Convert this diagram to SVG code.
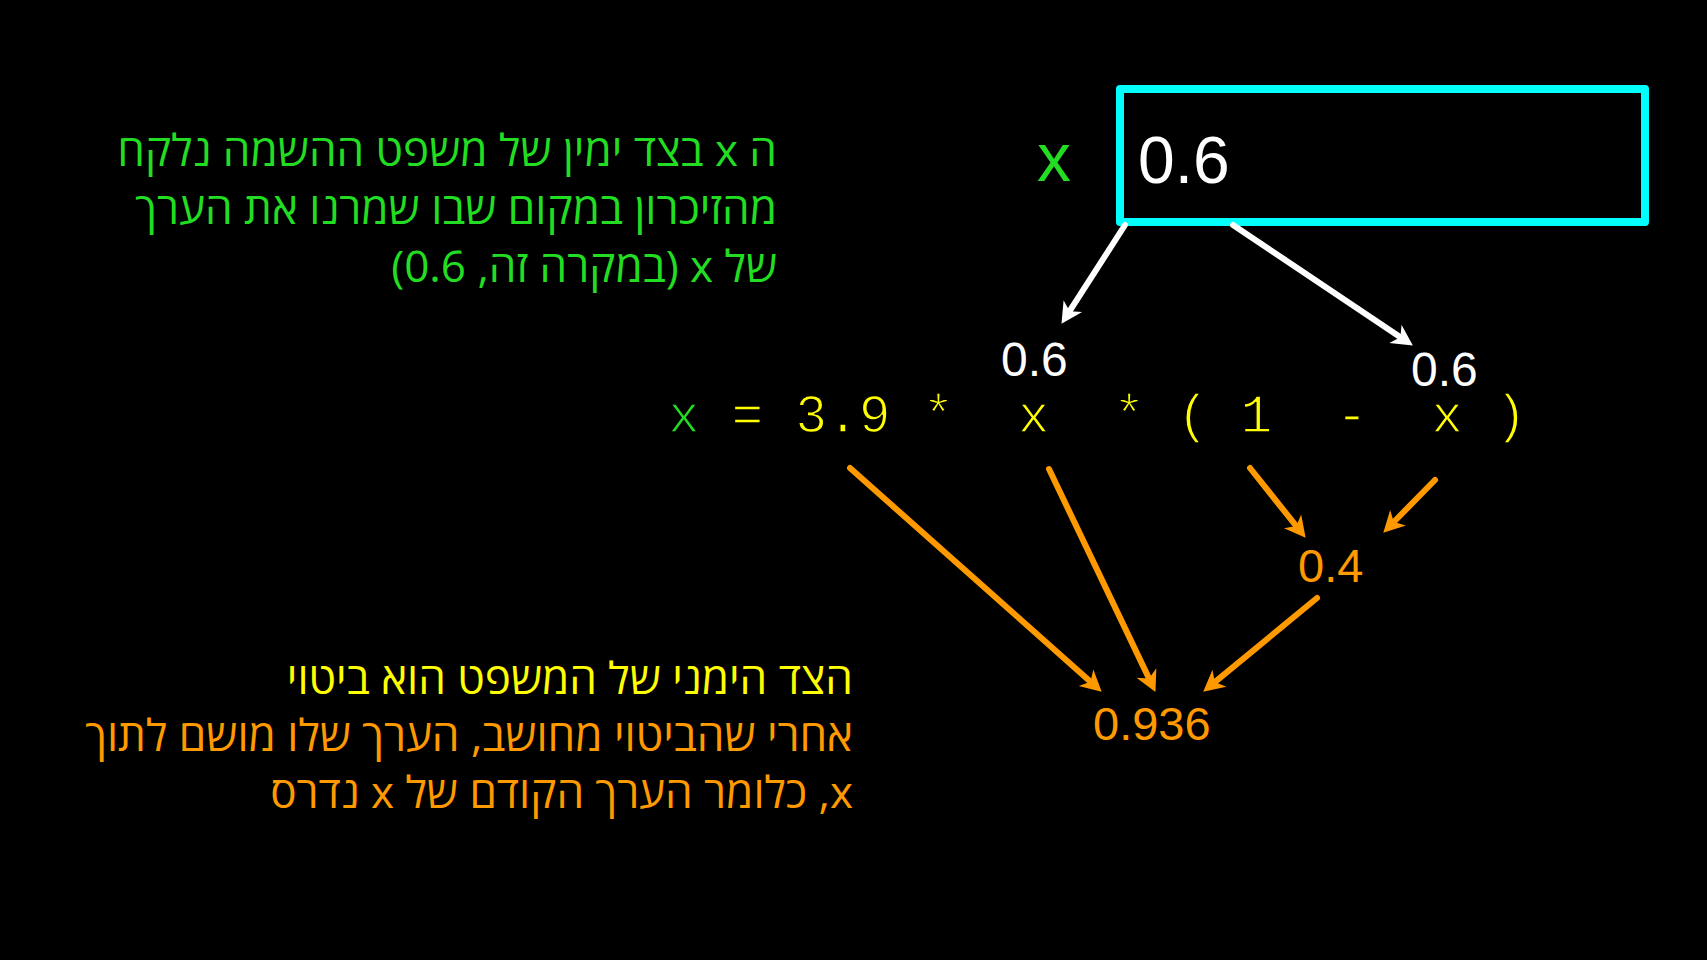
<svg xmlns="http://www.w3.org/2000/svg" width="1707" height="960" viewBox="0 0 1707 960">
  <style>
    .heb { font-family: "Open Sans", "Liberation Sans", "DejaVu Sans", sans-serif; font-size: 44px; }
    .num { font-family: "Liberation Sans", Arial, sans-serif; }
    .code { font-family: "Courier New", "Nimbus Mono PS", "FreeMono", "Liberation Mono", monospace; font-size: 53px; stroke: #000000; stroke-width: 1.4; }
    .green { fill: #22DD22; }
    .yellow { fill: #FFFF00; }
    .orange { fill: #FF9900; }
    .white { fill: #FFFFFF; }
    .wline { stroke: #FFFFFF; stroke-width: 6; stroke-linecap: round; fill: none; }
    .oline { stroke: #FF9900; stroke-width: 6; stroke-linecap: round; fill: none; }
  </style>
  <defs>
    <marker id="headW" markerUnits="userSpaceOnUse" markerWidth="40" markerHeight="40" refX="0" refY="0" orient="auto" overflow="visible">
      <path d="M15,0 L-6,-11 L0,0 L-6,11 Z" fill="#FFFFFF"/>
    </marker>
    <marker id="headO" markerUnits="userSpaceOnUse" markerWidth="40" markerHeight="40" refX="0" refY="0" orient="auto" overflow="visible">
      <path d="M15,0 L-6,-11 L0,0 L-6,11 Z" fill="#FF9900"/>
    </marker>
  </defs>
  <rect x="0" y="0" width="1707" height="960" fill="#000000"/>

  <g id="note-top">
    <text class="heb green" direction="rtl" text-anchor="start" x="777" y="166">ה x בצד ימין של משפט ההשמה נלקח</text>
    <text class="heb green" direction="rtl" text-anchor="start" x="777" y="224">מהזיכרון במקום שבו שמרנו את הערך</text>
    <text class="heb green" direction="rtl" text-anchor="start" x="777" y="282">של x (במקרה זה, 0.6)</text>
  </g>

  <g id="variable-x">
    <text class="num green" x="1037" y="181" font-size="68">x</text>
    <rect x="1120" y="89" width="525" height="133" fill="none" stroke="#00FFFF" stroke-width="8" stroke-linejoin="round"/>
    <text class="num white" x="1138" y="183" font-size="66">0.6</text>
  </g>

  <g id="value-left">
    <text class="num white" x="1001" y="376" font-size="48">0.6</text>
  </g>
  <g id="value-right">
    <text class="num white" x="1411" y="386" font-size="48">0.6</text>
  </g>

  <g id="equation">
    <text class="code" x="668" y="432" xml:space="preserve"><tspan class="green">x</tspan><tspan class="yellow"> = 3.9 *  x  * ( 1  -  x )</tspan></text>
  </g>

  <g id="value-04">
    <text class="num orange" x="1298" y="582" font-size="47">0.4</text>
  </g>
  <g id="value-0936">
    <text class="num orange" x="1093" y="740" font-size="47">0.936</text>
  </g>

  <g id="note-bottom">
    <text class="heb yellow" direction="rtl" text-anchor="start" x="853" y="694">הצד הימני של המשפט הוא ביטוי</text>
    <text class="heb orange" direction="rtl" text-anchor="start" x="853" y="751">אחרי שהביטוי מחושב, הערך שלו מושם לתוך</text>
    <text class="heb orange" direction="rtl" text-anchor="start" x="853" y="808" font-size="43">x, כלומר הערך הקודם של x נדרס</text>
  </g>

  <g id="connectors">
    <line class="wline" x1="1125" y1="225" x2="1069.6" y2="311.2" marker-end="url(#headW)"/>
    <line class="wline" x1="1233" y1="225" x2="1400.4" y2="337.2" marker-end="url(#headW)"/>
    <line class="oline" x1="850" y1="468" x2="1090.5" y2="681.7" marker-end="url(#headO)"/>
    <line class="oline" x1="1049" y1="469" x2="1149" y2="678.4" marker-end="url(#headO)"/>
    <line class="oline" x1="1250" y1="468" x2="1296.3" y2="526.1" marker-end="url(#headO)"/>
    <line class="oline" x1="1435" y1="480" x2="1393.8" y2="522" marker-end="url(#headO)"/>
    <line class="oline" x1="1317" y1="598" x2="1214.8" y2="682.1" marker-end="url(#headO)"/>
  </g>
</svg>
